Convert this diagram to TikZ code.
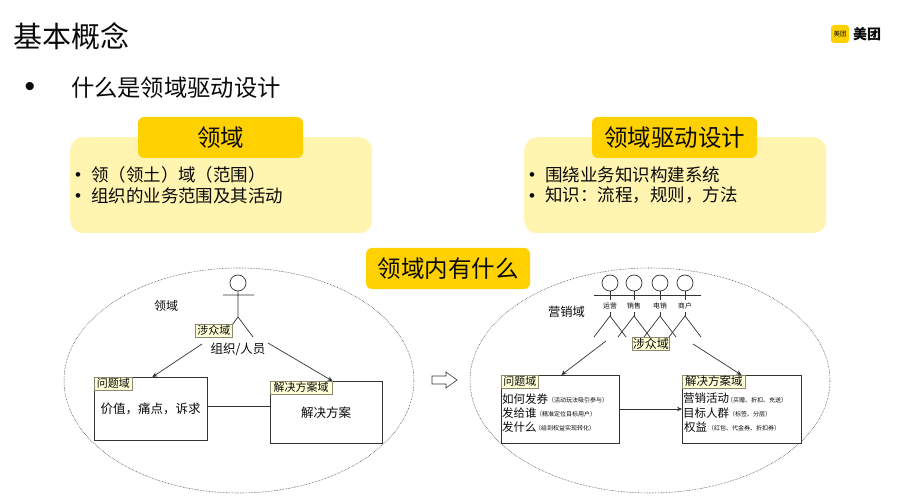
\documentclass[tikz,border=0pt]{standalone}
\usepackage{fontspec}
\setmainfont{Noto Sans CJK SC}
\newfontfamily\bulletfont{Liberation Sans}
\usetikzlibrary{shapes.geometric,calc,arrows.meta}
\newcommand{\fsz}[1]{\fontsize{#1}{#1}\selectfont}
\definecolor{brandy}{HTML}{FFD100}
\definecolor{panely}{HTML}{FFF4B0}
\definecolor{tagfill}{HTML}{FFFFD8}
\definecolor{tagline}{HTML}{8A8A70}
\definecolor{ink}{HTML}{0A0A0A}
\definecolor{wire}{HTML}{333333}
\tikzset{
  x=1pt,y=-1pt,
  txt/.style={inner sep=0pt,outer sep=0pt,text=ink,font=\fsz{#1}},
  txtl/.style={txt=#1,anchor=west},
  panel/.style={fill=panely,draw=none,rounded corners=13pt,inner sep=0pt,anchor=north west},
  tabbox/.style={fill=brandy,draw=none,rounded corners=6pt,inner sep=0pt,text=ink,font=\fsz{23.5},minimum height=41pt},
  domainoval/.style={ellipse,draw=wire,densely dotted,line width=.55pt,inner sep=0pt,minimum height=225pt},
  box/.style={draw=wire,line width=.8pt,fill=white,inner sep=0pt,anchor=north west},
  tag/.style={draw=tagline,line width=.6pt,fill=tagfill,inner sep=0pt,anchor=north west,text=ink,font=\fsz{#1},minimum height=12.5pt},
  wireline/.style={draw=wire,line width=.7pt},
  arr/.style={wireline,-{Stealth[length=5pt,width=4.5pt]}},
  head/.style={circle,draw=wire,line width=.7pt,fill=white,minimum size=16pt,inner sep=0pt},
}
\begin{document}
\begin{tikzpicture}
\useasboundingbox (0,0) rectangle (906,500);
\fill[white] (0,0) rectangle (906,500);
% header
\node[txtl=29] (title) at (13,36) {基本概念};
\node[txtl=23.3] (sub) at (71,88) {什么是领域驱动设计};
\node[txt=30] (bull) at (30,89) {\bulletfont •};
% logo
\node[fill=brandy,rounded corners=3pt,minimum size=18pt,inner sep=0pt,text=ink,font=\fsz{6.5}] (logo) at (840,34) {美团};
\node[txtl=14,font=\fsz{14}\bfseries] (logot) at (853,34) {美团};
% panels
\node[panel,minimum width=302pt,minimum height=96pt] (pl) at (70,137) {};
\node[panel,minimum width=302pt,minimum height=96pt] (pr) at (524,137) {};
\node[tabbox,minimum width=165pt] (tl) at (220.5,137.5) {领域};
\node[tabbox,minimum width=165pt] (tr) at (674.5,137.5) {领域驱动设计};
\node[tabbox,minimum width=164pt] (tc) at (448,268.5) {领域内有什么};
\node[txt=17,font=\fsz{17}\bulletfont] (b1) at (78,177) {•};
\node[txt=17,font=\fsz{17}\bulletfont] (b2) at (78,198) {•};
\node[txtl=17.5] (l1) at (91,174.5) {领（领土）域（范围）};
\node[txtl=17.5] (l2) at (91,195.5) {组织的业务范围及其活动};
\node[txt=17,font=\fsz{17}\bulletfont] (b3) at (532,177) {•};
\node[txt=17,font=\fsz{17}\bulletfont] (b4) at (532,198) {•};
\node[txtl=17.5] (r1) at (545,174.5) {围绕业务知识构建系统};
\node[txtl=17.5] (r2) at (545,195.5) {知识：流程，规则，方法};
% ellipses
\node[domainoval,minimum width=350pt] (el) at (239,380.5) {};
\node[domainoval,minimum width=360pt] (er) at (650,380.5) {};
% left figure
\node[head] (hl) at (238,283) {};
\draw[wireline] (hl.south) -- (238,317) (223,295) -- (254,295) (223,337) -- (238,317) -- (253,337);
\node[tag=11,minimum width=37pt] (tagl) at (195,324) {涉众域};
\node[txt=12] (dl) at (166,306) {领域};
\node[txt=12.5] (org) at (238,349) {组织/人员};
% left boxes
\node[box,minimum width=113pt,minimum height=63pt] (pb) at (94,377) {};
\node[box,minimum width=112.5pt,minimum height=62pt] (sb) at (269.5,381) {};
\node[tag=11,minimum width=38pt] (pbt) at (94,377) {问题域};
\node[tag=11,minimum width=62.5pt] (sbt) at (269.5,381) {解决方案域};
\node[txt=12.5] (pbx) at (150.5,409) {价值，痛点，诉求};
\node[txt=12.5] (sbx) at (326,413) {解决方案};
\coordinate (ly) at (0,406);
\draw[draw=wire,line width=.9pt] (pb.east |- ly) -- (sb.west |- ly);
\coordinate (al) at (202,344);
\coordinate (ar) at (268,343);
\draw[arr] (al) -- ($(pb.north west)!.513!(pb.north east)$);
\draw[arr] (ar) -- ($(sb.north west)!.556!(sb.north east)$);
% hollow arrow
\draw[draw=wire,line width=.6pt,fill=white] (432,376) -- (446,376) -- (446,372) -- (457,380) -- (446,388) -- (446,384) -- (432,384) -- cycle;
% right figures
\coordinate (bar1) at (594,295);
\coordinate (bar2) at (701,295);
\draw[wireline] (bar1) -- (bar2);
\foreach \n/\x/\t in {a/610/运营,b/634/销售,c/660/电销,d/685/商户}{
  \node[head] (h\n) at (\x,283) {};
  \draw[wireline] (h\n.south) -- (\x,300) (\x,312) -- (\x,317);
  \draw[wireline] (\x-16,337) -- (\x,316) -- (\x+16,337);
  \node[txt=6.8] (n\n) at (\x,306) {\t};
}
\node[tag=12,minimum width=37pt,minimum height=13pt] (tagr) at (632,337) {涉众域};
\node[txt=12.3] (dr) at (566.5,312) {营销域};
% right boxes
\node[box,minimum width=118pt,minimum height=68pt] (pb2) at (501,375) {};
\node[box,minimum width=119pt,minimum height=68pt] (sb2) at (682,375) {};
\node[tag=11,minimum width=37pt] (pbt2) at (501,375) {问题域};
\node[tag=11.5,minimum width=63pt] (sbt2) at (682,375) {解决方案域};
\node[txtl=11.5] (p1) at (502,399) {如何发券};
\node[txtl=6] (p1s) at (548,400) {（活动玩法吸引参与）};
\node[txtl=11.5] (p2) at (502,413) {发给谁};
\node[txtl=6] (p2s) at (536,414) {（精准定位目标用户）};
\node[txtl=11.5] (p3) at (502,427) {发什么};
\node[txtl=6] (p3s) at (535,428) {（给到权益实现转化）};
\node[txtl=11.5] (s1) at (683,398) {营销活动};
\node[txtl=6] (s1s) at (727,400) {（买赠、折扣、充送）};
\node[txtl=11.5] (s2) at (683,413) {目标人群};
\node[txtl=6] (s2s) at (729,414) {（标签、分层）};
\node[txtl=11.5] (s3) at (684,427) {权益};
\node[txtl=6] (s3s) at (708,428) {（红包、代金券、折扣券）};
\coordinate (ly2) at (0,409);
\draw[arr] (pb2.east |- ly2) -- (sb2.west |- ly2);
\coordinate (al2) at (606,341);
\coordinate (ar2) at (693,344);
\draw[arr] (al2) -- ($(pb2.north west)!.508!(pb2.north east)$);
\draw[arr] (ar2) -- ($(sb2.north west)!.496!(sb2.north east)$);
\end{tikzpicture}
\end{document}
